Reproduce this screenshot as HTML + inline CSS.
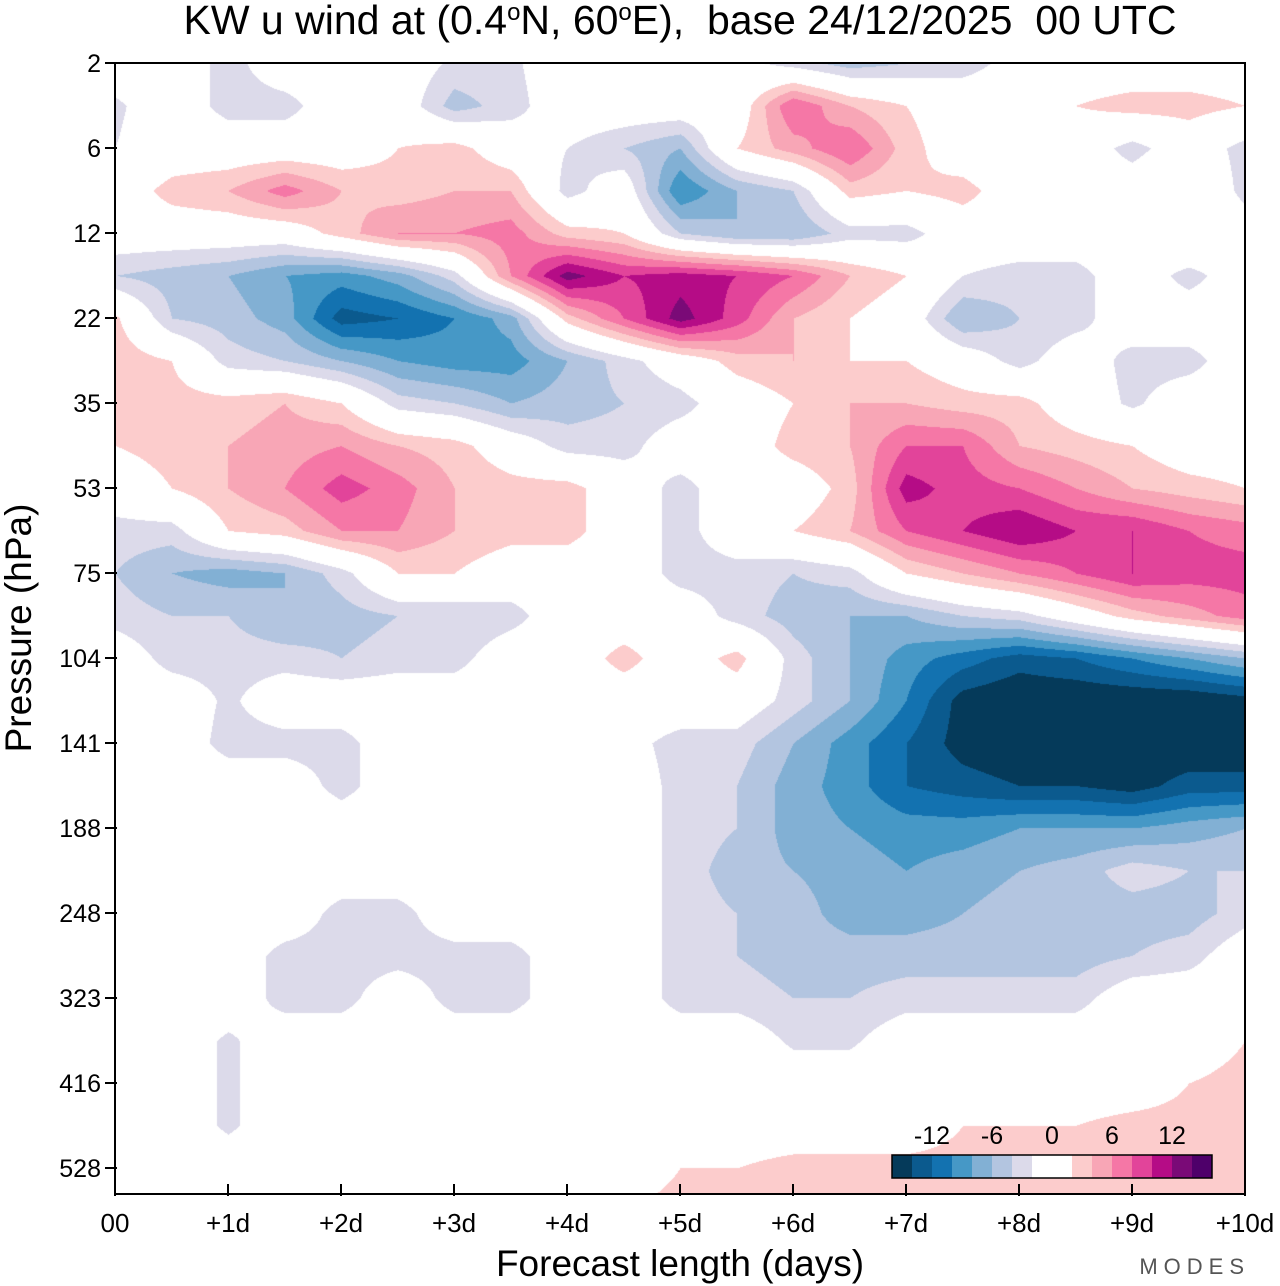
<!DOCTYPE html>
<html><head><meta charset="utf-8">
<style>
html,body{margin:0;padding:0;background:#fff;}
body{width:1280px;height:1286px;position:relative;overflow:hidden;font-family:"Liberation Sans",sans-serif;color:#000;}
#plot{position:absolute;left:115px;top:63px;}
svg{position:absolute;left:0;top:0;}
</style></head>
<body>
<canvas id="plot" width="1130" height="1131"></canvas>
<svg id="ax" width="1280" height="1286"></svg>
<script>
const days = [0,0.5,1,1.5,2,2.5,3,3.5,4,4.5,5,5.5,6,6.5,7,7.5,8,8.5,9,9.5,10];
const pressureLabels = ["2","6","12","22","35","53","75","104","141","188","248","323","416","528"];
const xTickLabels = ["00","+1d","+2d","+3d","+4d","+5d","+6d","+7d","+8d","+9d","+10d"];
const levelBounds = [-14,-12,-10,-8,-6,-4,-2,0,2,4,6,8,10,12,14];
const levelColors = ["#053a5a","#0b5a8e","#1372b0","#4698c6","#82b0d4","#b3c5e0","#dcdaea","#ffffff","#ffffff","#fccccc","#f8a6b6","#f577a6","#e2449a","#b50c86","#7a0a77","#4e006a"];
const cbLabels = ["-12","-6","0","6","12"];
const cbLabelVals = [-12,-6,0,6,12];
// rows at half-level steps (row k => level index k/2)
const u00=[0,0,-3,0,0,0,-2.5,-2.5,0,0,0,-1,-3,-5,-4,-3,-1,0,0,0,0];
const u01=[-2.5,0,-3,-3,0,0,-5,-3,0,0,0,0,8,4,2,0,0,2,3,3,2];
const u02=[-2,0,0,0,0,2,3,0,-2,-4,-6,2,5,8,3,0,-2,0,-3,0,-3];
const u03=[0,3,4,7,4,3,4,4,-3,0,-10,-6,-4,3,2,3,0,0,0,2,-3];
const u04=[0,0,0,0,3,6,6,7,3,2,-4,-6,-6,-3,-3,0,0,0,0,2,0];
const u05=[-4,-5,-6,-8,-9,-7,-3,6,13,10,11,10,8,4,2,-2,-3,-3,0,-3,0];
const u06=[2.5,-4,-5,-7,-13,-12,-10,-7,3,8,13,9,4,2,0,-6,-4,-3,0,0,0];
const u07=[3.5,2,-3,-4,-6,-8,-9,-9,-6,-3,0,3,4,2,2,0,-3,0,-3,-3,0];
const u08=[3,3,3,4,2,-3,-4,-6,-5,-4,-3,0,2,4,4,3,3,0,-2.5,0,0];
const u09=[2,3,4,5,6,4,3,0,-3,-3,0,0,3,4,8,8,4,3,2,0,0];
const u10=[0,2,4,6,9,7,4,3,3,0,-3,0,0,3,11,9,8,6,4,3,2];
const u11=[-3,-3,2,3,6,6,4,3,3,0,-3,0,2,4,8,10,12,10,10,8,7];
const u12=[-4,-6,-7,-6,-3,2,2,0,0,0,-3,-3,-4,-3,2,4,6,8,10,9,9];
const u13=[-3,-4,-4,-6,-5,-4,-4,-3,0,0,0,-3,-5,-6,-6,-4,-3,0,3,5,7];
const u14=[0,-3,-3,-3,-4,-3,-3,0,0,3,0,3,-3,-6,-9,-11,-13,-12,-10,-8,-6];
const u15=[0,0,-2.5,0,0,0,0,0,0,0,0,0,-3,-6,-10,-15,-16,-16,-16,-16,-15];
const u16=[0,0,-3,-3,-3,0,0,0,0,-1,-3,-3,-6,-9,-12,-15,-16,-16,-16,-16,-16];
const u17=[0,0,0,0,-3,0,0,0,0,0,-3,-4,-7,-9,-12,-13,-14,-14,-15,-13,-13];
const u18=[0,0,0,0,0,0,0,0,0,0,-3,-4,-7,-8,-9,-9,-8,-8,-8,-7,-6];
const u19=[0,0,0,0,0,0,0,0,0,0,-3,-5,-6,-7,-8,-7,-6,-5,-3,-4,-4];
const u20=[0,0,0,0,-3,-3,0,0,0,0,-3,-4,-5,-7,-7,-6,-5,-5,-5,-5,-3];
const u21=[0,0,0,-3,-3,-3,-3,-3,0,0,-3,-4,-5,-5,-5,-5,-5,-5,-4,-3,0];
const u22=[0,0,0,-3,-3,0,-3,-3,0,0,-3,-3,-4,-4,-3,-3,-3,-3,0,0,0];
const u23=[0,0,-2.5,0,0,0,0,0,0,0,0,0,-2.5,-2.5,0,0,0,0,0,0,2];
const u24=[0,0,-2.5,0,0,0,0,0,0,0,0,0,0,0,0,0,0,0,0,2,3];
const u25=[0,0,-2.5,0,0,0,0,0,0,0,0,0,0,0,0,2,2,2,3,3,3];
const u26=[0,0,0,0,0,0,0,0,0,0,2,2,3,3,3,3,3,3,3,3,3];
const u27=[0,0,0,0,0,0,0,0,0,2,3,3,3,3,3,3,3,3,3,3,3];
const uRows=[u00,u01,u02,u03,u04,u05,u06,u07,u08,u09,u10,u11,u12,u13,u14,u15,u16,u17,u18,u19,u20,u21,u22,u23,u24,u25,u26,u27];

const X0=115, X1=1245, Y0=63, LEV=85, YB=1194;
const xScale = d => X0 + (d/10)*(X1-X0);
const yScale = li => Y0 + li*LEV;
function hex(c){return [parseInt(c.substr(1,2),16),parseInt(c.substr(3,2),16),parseInt(c.substr(5,2),16)];}

(function(){
  const cv=document.getElementById('plot'), ctx=cv.getContext('2d');
  const W=cv.width,H=cv.height, img=ctx.createImageData(W,H);
  const rgb=levelColors.map(hex);
  const nC=days.length, nR=uRows.length;
  for(let py=0;py<H;py++){
    const fr=(py)/(LEV/2); let r0=Math.min(Math.floor(fr),nR-2); const ry=fr-r0;
    for(let px=0;px<W;px++){
      const d=px/(X1-X0)*10; const fc=d/0.5; let c0=Math.min(Math.floor(fc),nC-2); const cx=fc-c0;
      const a=uRows[r0][c0],b=uRows[r0][c0+1],c=uRows[r0+1][c0],e=uRows[r0+1][c0+1];
      const v=a*(1-cx)*(1-ry)+b*cx*(1-ry)+c*(1-cx)*ry+e*cx*ry;
      let i=0;while(i<levelBounds.length && v>=levelBounds[i]) i++;
      const k=(py*W+px)*4; img.data[k]=rgb[i][0];img.data[k+1]=rgb[i][1];img.data[k+2]=rgb[i][2];img.data[k+3]=255;
    }
  }
  ctx.putImageData(img,0,0);
})();

(function(){
  const NS='http://www.w3.org/2000/svg', svg=document.getElementById('ax');
  function el(t,a,txt){const e=document.createElementNS(NS,t);for(const k in a)e.setAttribute(k,a[k]);if(txt!==undefined)e.textContent=txt;svg.appendChild(e);return e;}
  let e;
  e=el('text',{x:680,y:34,'text-anchor':'middle','font-size':41,'font-family':'Liberation Sans',style:'white-space:pre'});
  e.innerHTML='KW u wind at (0.4<tspan dy="-14" font-size="24">o</tspan><tspan dy="14">N, 60</tspan><tspan dy="-14" font-size="24">o</tspan><tspan dy="14">E),  base 24/12/2025  00 UTC</tspan>';
  
  
  e=el('rect',{x:X0,y:Y0,width:X1-X0,height:YB-Y0,fill:'none',stroke:'#000','stroke-width':2});
  
  
  pressureLabels.forEach((p,i)=>{
    const y=yScale(i);
    e=el('line',{x1:X0-10,x2:X0+2,y1:y,y2:y,stroke:'#000','stroke-width':2});
    
    
    e=el('text',{x:X0-14,y:y+9,'text-anchor':'end','font-size':25},p);
    
    
  });
  xTickLabels.forEach((l,i)=>{
    const x=xScale(i);
    e=el('line',{x1:x,x2:x,y1:YB-10,y2:YB+2,stroke:'#000','stroke-width':2});
    
    
    e=el('text',{x:x,y:1232,'text-anchor':'middle','font-size':26},l);
    
    
  });
  e=el('text',{x:680,y:1276,'text-anchor':'middle','font-size':37},'Forecast length (days)');
  
  
  e=el('text',{x:0,y:0,'text-anchor':'middle','font-size':37,transform:'translate(31,628) rotate(-90)'},'Pressure (hPa)');
  
  
  e=el('text',{x:1250,y:1274,'text-anchor':'end','font-size':22,fill:'#555','letter-spacing':'6'},'MODES');
  
  
  const CB0=892, CBW=20, CBY=1155, CBH=23;
  levelColors.forEach((c,i)=>{
    e=el('rect',{x:CB0+i*CBW,y:CBY,width:CBW+0.5,height:CBH,fill:c});
    
    
  });
  e=el('rect',{x:CB0,y:CBY,width:CBW*levelColors.length,height:CBH,fill:'none',stroke:'#000','stroke-width':1.5});
  
  
  const cbx=v=>CB0+CBW*(v+16)/2;
  cbLabels.forEach((l,i)=>{
    e=el('text',{x:cbx(cbLabelVals[i]),y:1144,'text-anchor':'middle','font-size':25},l);
    
    
  });
})();
</script>
</body></html>
